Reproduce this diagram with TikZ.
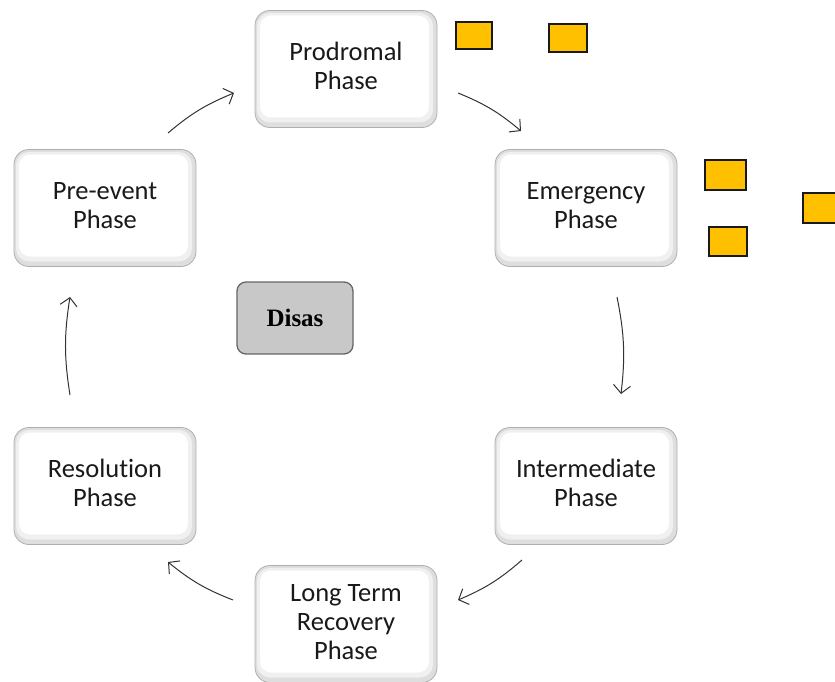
\documentclass[tikz,border=0pt]{standalone}
\usepackage{fontspec}
\setmainfont{Carlito}[Ligatures={NoCommon}]
\newfontfamily\serifbold{Liberation Serif}
\usetikzlibrary{arrows.meta,calc}
\definecolor{boxedge}{RGB}{175,175,175}
\definecolor{boxfill}{RGB}{222,222,222}
\definecolor{boxmid}{RGB}{240,240,240}
\definecolor{ambar}{RGB}{255,192,0}
\definecolor{disasfill}{RGB}{200,200,200}
\definecolor{arrowcol}{RGB}{50,50,50}
\tikzset{
  phasebox/.style={draw=boxedge, line width=0.8pt, fill=boxfill, rounded corners=15pt,
    minimum width=182pt, minimum height=117pt, inner sep=0pt, align=center,
    font=\fontsize{26.5}{29}\selectfont, text=black!90,
    path picture={
      \fill[boxmid,rounded corners=13pt]
      ([shift={(2pt,-2.5pt)}]path picture bounding box.north west) rectangle
      ([shift={(-4pt,5pt)}]path picture bounding box.south east);
      \fill[white,rounded corners=11pt]
      ([shift={(5pt,-5pt)}]path picture bounding box.north west) rectangle
      ([shift={(-8pt,10pt)}]path picture bounding box.south east);}},
  flag/.style={draw=black!90, line width=1.6pt, fill=ambar},
  cyc/.style={draw=arrowcol, line width=1pt, -{Straight Barb[length=8pt,width=17pt]}, bend left=9}
}
\begin{document}
\begin{tikzpicture}[x=1pt,y=-1pt]
\useasboundingbox (0,0) rectangle (835,682);
\node[phasebox] (pro) at (346,69) {Prodromal\\Phase\\[-23pt]\mbox{}};
\node[phasebox] (eme) at (586,208) {Emergency\\Phase\\[-23pt]\mbox{}};
\node[phasebox] (int) at (586,486) {Intermediate\\Phase\\[-23pt]\mbox{}};
\node[phasebox] (ltr) at (346,624) {Long Term\\Recovery\\Phase\\[-25pt]\mbox{}};
\node[phasebox] (res) at (105,486) {Resolution\\Phase\\[-23pt]\mbox{}};
\node[phasebox] (pre) at (105,208) {Pre-event\\Phase\\[-23pt]\mbox{}};
\node[draw=black!60, line width=1.3pt, fill=disasfill, rounded corners=9pt,
  minimum width=116pt, minimum height=72pt, inner sep=0pt,
  font=\serifbold\bfseries\fontsize{25}{28}\selectfont] (dis) at (295,318) {Disas};
% yellow markers
\draw[flag] (456,22) rectangle (492,49) coordinate (f1);
\draw[flag] (549,24) rectangle (587,52) coordinate (f2);
\draw[flag] (705,160) rectangle (746,190) coordinate (f3);
\draw[flag] (803,193) rectangle (840,223) coordinate (f4);
\draw[flag] (709,227) rectangle (747,256) coordinate (f5);
% arrow end points
\coordinate (a1s) at (168,133); \coordinate (a1e) at (234,93);
\coordinate (a2s) at (458,93); \coordinate (a2e) at (521,131);
\coordinate (a3s) at (617,297); \coordinate (a3e) at (621,394);
\coordinate (a4s) at (522,560); \coordinate (a4e) at (458,600);
\coordinate (a5s) at (233,600); \coordinate (a5e) at (168,562);
\coordinate (a6s) at (70,395); \coordinate (a6e) at (70,297);
\draw[cyc] (a1s) to (a1e);
\draw[cyc] (a2s) to (a2e);
\draw[cyc] (a3s) to (a3e);
\draw[cyc] (a4s) to (a4e);
\draw[cyc] (a5s) to (a5e);
\draw[cyc] (a6s) to (a6e);
\end{tikzpicture}
\end{document}
